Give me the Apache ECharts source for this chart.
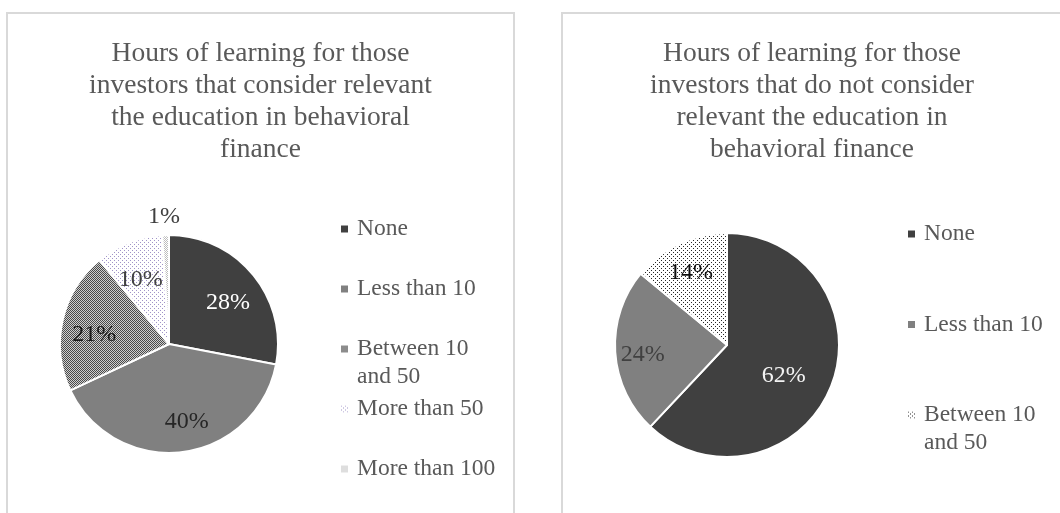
<!DOCTYPE html>
<html>
<head>
<meta charset="utf-8">
<script src="https://cdn.jsdelivr.net/npm/echarts@6/dist/echarts.min.js"></script>
<style>
html, body { margin: 0; padding: 0; width: 1060px; height: 513px; overflow: hidden; background: #fff; }
.panel { position: absolute; top: 12px; height: 520px; border: 2px solid #d9d9d9; box-sizing: border-box; }
#panelLeft { left: 6px; width: 509px; }
#panelRight { left: 561px; width: 502px; }
.chart { width: 100%; height: 100%; }
</style>
</head>
<body>
<div class="panel" id="panelLeft"><div class="chart" id="chartLeft"></div></div>
<div class="panel" id="panelRight"><div class="chart" id="chartRight"></div></div>
<script>
// data (percent)
const leftCategories = ['None', 'Less than 10', 'Between 10 and 50', 'More than 50', 'More than 100']
const leftValues = [28, 40, 21, 10, 1]
const rightCategories = ['None', 'Less than 10', 'Between 10 and 50']
const rightValues = [62, 24, 14]

const leftTitle = 'Hours of learning for those\ninvestors that consider relevant\nthe education in behavioral\nfinance'
const rightTitle = 'Hours of learning for those\ninvestors that do not consider\nrelevant the education in\nbehavioral finance'

const serif = 'Liberation Serif, Times New Roman, serif'
const textGrey = '#595959'
const legendLine = 28

// small tiled fills like the office hatch patterns
function makePattern(size, bg, fg, dots) {
  const c = document.createElement('canvas')
  c.width = size
  c.height = size
  const ctx = c.getContext('2d')
  ctx.fillStyle = bg
  ctx.fillRect(0, 0, size, size)
  ctx.fillStyle = fg
  dots.forEach(d => ctx.fillRect(d[0], d[1], 1, 1))
  return { image: c, repeat: 'repeat' }
}

const checker = makePattern(4, '#cfcfcf', '#4a4a4a', [[0, 0], [2, 0], [1, 1], [3, 1], [0, 2], [2, 2], [1, 3], [3, 3]])
const lilacDots = makePattern(4, '#ffffff', '#a093c8', [[0, 0], [2, 2]])
const lightDots = makePattern(2, '#ffffff', '#bdbdbd', [[0, 0], [1, 1]])
const blackDots = makePattern(4, '#ffffff', '#262626', [[0, 0], [2, 2]])

const leftFills = ['#404040', '#808080', checker, lilacDots, lightDots]
const leftLabelColors = ['#ffffff', '#262626', '#1a1a1a', '#404040', '#404040']
const rightFills = ['#404040', '#808080', blackDots]
const rightLabelColors = ['#f2f2f2', '#404040', '#0d0d0d']

// the wrapped entry gets an empty first line so its icon sits on "Between 10"
function legendName(name) {
  return name === 'Between 10 and 50' ? '\nBetween 10\nand 50' : name
}

function buildOption(cfg) {
  const labelBase = { fontFamily: serif, fontSize: 24, formatter: '{c}%' }
  const mainData = cfg.names.map((n, i) => {
    const item = { name: n, value: cfg.values[i], itemStyle: { color: cfg.fills[i] } }
    if (cfg.outer.indexOf(n) >= 0) {
      item.label = Object.assign({ show: true, position: 'outside', distanceToLabelLine: -15, color: cfg.labelColors[i] }, labelBase)
      item.labelLine = { show: false, length: 18, length2: 0 }
    }
    return item
  })

  const series = [{
    type: 'pie',
    center: cfg.center,
    radius: cfg.radius,
    startAngle: 90,
    clockwise: true,
    avoidLabelOverlap: false,
    emphasis: { disabled: true },
    itemStyle: { borderColor: '#ffffff', borderWidth: 2 },
    label: { show: false },
    labelLine: { show: false },
    data: mainData
  }]

  // transparent twins, only to place the inside labels like the original
  cfg.ghosts.forEach(g => {
    series.push({
      type: 'pie',
      center: g.center,
      radius: g.radius,
      startAngle: 90,
      clockwise: true,
      silent: true,
      avoidLabelOverlap: false,
      emphasis: { disabled: true },
      itemStyle: { color: 'rgba(0,0,0,0)', borderWidth: 0 },
      label: Object.assign({ show: true, position: 'inside' }, labelBase),
      labelLine: { show: false },
      data: cfg.names.map((n, i) => ({
        name: n,
        value: cfg.values[i],
        label: { show: g.names.indexOf(n) >= 0, color: cfg.labelColors[i] }
      }))
    })
  })

  // one legend per entry so the wrapped entry keeps the even spacing
  const legends = cfg.names.map((n, i) => {
    const wrapped = legendName(n) !== n
    return {
      orient: 'vertical',
      left: cfg.legendLeft,
      top: cfg.legendTop + i * cfg.legendPitch - (wrapped ? legendLine : 0),
      padding: 0,
      itemWidth: 7,
      itemHeight: 7,
      icon: 'rect',
      selectedMode: false,
      itemStyle: { borderWidth: 0 },
      data: [n],
      formatter: legendName,
      textStyle: { fontFamily: serif, fontSize: 23.5, color: textGrey, lineHeight: legendLine, padding: [0, 0, 0, 4] }
    }
  })

  return {
    animation: false,
    title: {
      text: cfg.title,
      left: 'center',
      top: 24,
      padding: 0,
      textStyle: { fontFamily: serif, fontSize: 27.5, fontWeight: 'normal', color: textGrey, lineHeight: 32 }
    },
    legend: legends,
    series: series
  }
}

const leftChart = echarts.init(document.getElementById('chartLeft'))
leftChart.setOption(buildOption({
  title: leftTitle,
  names: leftCategories,
  values: leftValues,
  fills: leftFills,
  labelColors: leftLabelColors,
  outer: ['More than 100'],
  center: [161, 330],
  radius: 109,
  ghosts: [
    { names: ['None', 'Between 10 and 50', 'More than 50'], center: [161, 337], radius: 147 },
    { names: ['Less than 10'], center: [169, 330], radius: 150 }
  ],
  legendLeft: 333,
  legendTop: 201,
  legendPitch: 60
}))

const rightChart = echarts.init(document.getElementById('chartRight'))
rightChart.setOption(buildOption({
  title: rightTitle,
  names: rightCategories,
  values: rightValues,
  fills: rightFills,
  labelColors: rightLabelColors,
  outer: [],
  center: [164, 331],
  radius: 112,
  ghosts: [
    { names: ['None'], center: [164, 339], radius: 116 },
    { names: ['Less than 10', 'Between 10 and 50'], center: [164, 335], radius: 163 }
  ],
  legendLeft: 345,
  legendTop: 206,
  legendPitch: 90.5
}))

window.addEventListener('resize', () => {
  leftChart.resize()
  rightChart.resize()
})
</script>
</body>
</html>
